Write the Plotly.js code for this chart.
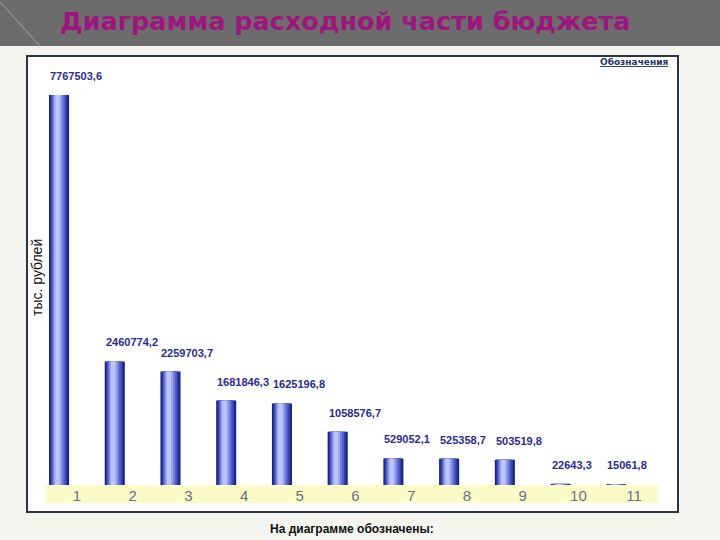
<!DOCTYPE html>
<html>
<head>
<meta charset="utf-8">
<script src="https://cdn.plot.ly/plotly-3.0.1.min.js"></script>
<style>html,body{margin:0;padding:0;background:#f5f5f0;}#chart{width:720px;height:540px;}</style>
</head>
<body>
<div id="chart"></div>
<script>
// Data
const categories = ["1","2","3","4","5","6","7","8","9","10","11"];
const values = [7767503.6, 2460774.2, 2259703.7, 1681846.3, 1625196.8, 1058576.7, 529052.1, 525358.7, 503519.8, 22643.3, 15061.8];
const valueLabels = ["7767503,6","2460774,2","2259703,7","1681846,3","1625196,8","1058576,7","529052,1","525358,7","503519,8","22643,3","15061,8"];

// Layout geometry (pixels)
const W = 720, H = 540;
const mL = 49, mR = 58, mT = 75, mB = 55;
const pw = W - mL - mR, ph = H - mT - mB;
const px = x => (x - mL) / pw;
const py = y => (H - mB - y) / ph;

// Simulated cylinder gradient: overlaid bar layers
const barOffset = -0.5, barWidth = 0.36;
const layers = [
  {a:0.00, b:1.00, c:'#1b2379'},
  {a:0.07, b:0.91, c:'#2f3cb0'},
  {a:0.13, b:0.82, c:'#4e5cd0'},
  {a:0.19, b:0.72, c:'#7483e0'},
  {a:0.25, b:0.62, c:'#9aa6ec'},
  {a:0.31, b:0.53, c:'#bcc5f5'}
];
const traces = layers.map(l => ({
  type: 'bar',
  x: categories,
  y: values,
  offset: barOffset + l.a * barWidth,
  width: (l.b - l.a) * barWidth,
  marker: {color: l.c, line: {width: 0}},
  hoverinfo: 'skip',
  showlegend: false
}));

const annotations = categories.map((c, i) => ({
  x: i + barOffset, y: values[i], xref: 'x', yref: 'y',
  text: '<b>' + valueLabels[i] + '</b>',
  showarrow: false, xanchor: 'left', yanchor: 'middle',
  xshift: -1, yshift: 19,
  font: {family: 'Arial, Liberation Sans, sans-serif', size: 11, color: '#2c2a9a'}
}));
annotations.push({
  xref: 'paper', yref: 'paper', x: px(37), y: py(278),
  text: 'тыс. рублей', textangle: -90, showarrow: false,
  xanchor: 'center', yanchor: 'middle',
  font: {family: 'Arial, Liberation Sans, sans-serif', size: 14, color: '#111'}
});
annotations.push({
  xref: 'paper', yref: 'paper', x: px(634), y: py(62),
  text: '<b><u>Обозначения</u></b>', showarrow: false,
  xanchor: 'center', yanchor: 'middle',
  font: {family: 'DejaVu Sans, sans-serif', size: 9, color: '#1f3570'}
});
annotations.push({
  xref: 'paper', yref: 'paper', x: px(352), y: py(529),
  text: '<b>На диаграмме обозначены:</b>', showarrow: false,
  xanchor: 'center', yanchor: 'middle',
  font: {family: 'Liberation Sans Narrow, Arial Narrow, sans-serif', size: 12, color: '#111'}
});
annotations.push({
  xref: 'paper', yref: 'paper', x: px(345), y: py(21),
  text: '<b>Диаграмма расходной части бюджета</b>', showarrow: false,
  xanchor: 'center', yanchor: 'middle',
  font: {family: 'DejaVu Sans, sans-serif', size: 25.5, color: '#a0147f'}
});

const shapes = [
  {type:'rect', xref:'paper', yref:'paper', x0:px(0), x1:px(720), y0:py(46), y1:py(0),
   fillcolor:'#6c6c6c', line:{width:0}, layer:'below'},
  {type:'line', xref:'paper', yref:'paper', x0:px(0), x1:px(40), y0:py(2), y1:py(46),
   line:{color:'#8a8a8a', width:1.5}, layer:'below'},
  {type:'rect', xref:'paper', yref:'paper', x0:px(27), x1:px(678), y0:py(512), y1:py(56),
   fillcolor:'#ffffff', line:{color:'#2a3644', width:2}, layer:'below'},
  {type:'rect', xref:'paper', yref:'paper', x0:px(45), x1:px(658), y0:py(503), y1:py(485),
   fillcolor:'#fbfbc8', line:{width:0}, layer:'below'}
];

const layout = {
  width: W, height: H,
  margin: {l: mL, r: mR, t: mT, b: mB},
  paper_bgcolor: '#f5f5f0',
  plot_bgcolor: 'rgba(0,0,0,0)',
  barmode: 'overlay',
  showlegend: false,
  xaxis: {
    type: 'category', range: [-0.5, 10.5],
    showgrid: false, zeroline: false, showline: false, ticks: '',
    tickfont: {family: 'Arial, Liberation Sans, sans-serif', size: 15, color: '#6e6e86'}
  },
  yaxis: {
    range: [0, 8166000], showgrid: false, zeroline: false, showline: false,
    showticklabels: false, ticks: ''
  },
  annotations: annotations,
  shapes: shapes
};

Plotly.newPlot('chart', traces, layout, {displayModeBar: false, staticPlot: true});
</script>
</body>
</html>
